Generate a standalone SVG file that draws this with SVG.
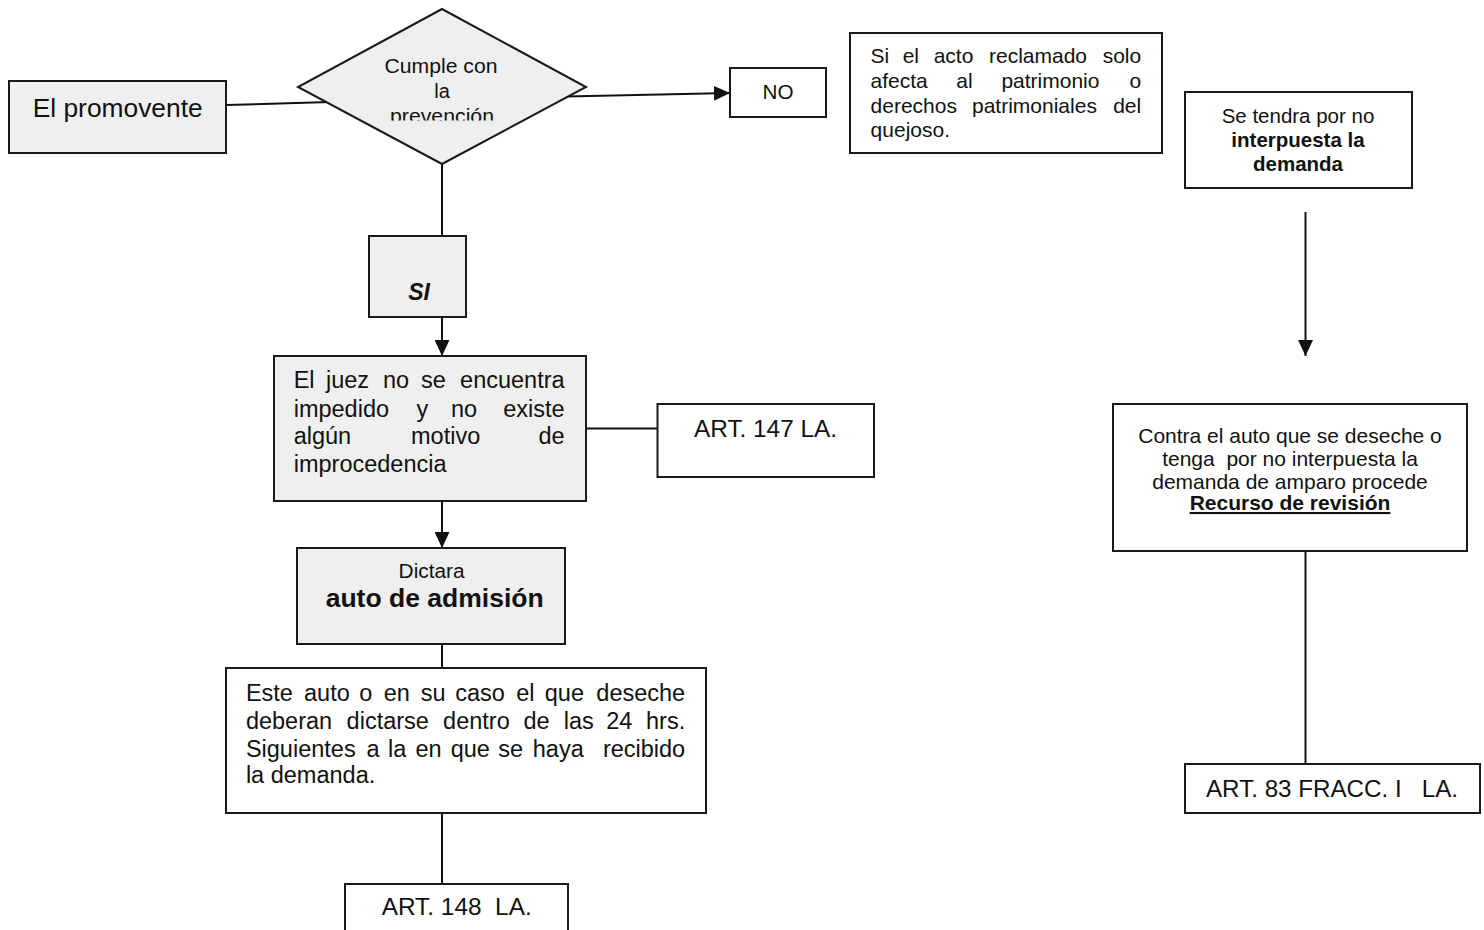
<svg xmlns="http://www.w3.org/2000/svg" width="1484" height="930" viewBox="0 0 1484 930">
  <style>
    .box { stroke: #1a1a1a; stroke-width: 2; }
    .gray { fill: #efefef; }
    .white { fill: #ffffff; }
    .wire { stroke: #111; stroke-width: 2; fill: none; }
    text { font-family: "Liberation Sans", Arial, sans-serif; fill: #111; }
    .b { font-weight: bold; }
  </style>
  <defs>
    <marker id="arrow" markerUnits="userSpaceOnUse" markerWidth="17" markerHeight="15" refX="16" refY="7.5" orient="auto">
      <path d="M0,0 L16,7.5 L0,15 Z" fill="#111"/>
    </marker>
    <clipPath id="diamondText">
      <rect x="370" y="0" width="150" height="120.5"/>
    </clipPath>
  </defs>
  <rect width="1484" height="930" fill="#ffffff"/>

  <!-- connectors -->
  <g id="connectors">
    <line class="wire" x1="226" y1="105" x2="330" y2="102"/>
    <line class="wire" x1="566" y1="96.5" x2="730" y2="93" marker-end="url(#arrow)"/>
    <line class="wire" x1="442" y1="164" x2="442" y2="236"/>
    <line class="wire" x1="442" y1="317" x2="442" y2="356" marker-end="url(#arrow)"/>
    <line class="wire" x1="586" y1="428.5" x2="657.5" y2="428.5"/>
    <line class="wire" x1="442" y1="501" x2="442" y2="548" marker-end="url(#arrow)"/>
    <line class="wire" x1="442" y1="644" x2="442" y2="668"/>
    <line class="wire" x1="442" y1="813" x2="442" y2="884"/>
    <line class="wire" x1="1305.5" y1="212" x2="1305.5" y2="356" marker-end="url(#arrow)"/>
    <line class="wire" x1="1305.5" y1="551" x2="1305.5" y2="764"/>
  </g>

  <!-- start -->
  <g id="promovente">
    <rect class="box gray" x="9" y="81" width="217" height="72"/>
    <text x="117.7" y="116.7" font-size="25" text-anchor="middle" textLength="170" lengthAdjust="spacingAndGlyphs">El promovente</text>
  </g>

  <!-- decision -->
  <g id="decision">
    <polygon class="box gray" points="442,9 586,87 442,164 298,87"/>
    <g clip-path="url(#diamondText)" font-size="20" text-anchor="middle">
      <text x="441" y="73" textLength="113" lengthAdjust="spacingAndGlyphs">Cumple con</text>
      <text x="442" y="98">la</text>
      <text x="442" y="123" textLength="104" lengthAdjust="spacingAndGlyphs">prevención</text>
    </g>
  </g>

  <g id="no">
    <rect class="box white" x="730" y="68" width="96" height="49"/>
    <text x="778" y="99" font-size="20" text-anchor="middle" textLength="31" lengthAdjust="spacingAndGlyphs">NO</text>
  </g>

  <g id="patrimonio">
    <rect class="box white" x="850" y="33" width="312" height="120"/>
    <g font-size="21">
      <text y="63.3"><tspan x="870.6">Si</tspan><tspan x="902.7">el</tspan><tspan x="933.7">acto</tspan><tspan x="989">reclamado</tspan><tspan x="1141.2" text-anchor="end">solo</tspan></text>
      <text y="88.3"><tspan x="870.6">afecta</tspan><tspan x="956.3">al</tspan><tspan x="1001.4">patrimonio</tspan><tspan x="1141.2" text-anchor="end">o</tspan></text>
      <text y="112.7"><tspan x="870.6">derechos</tspan><tspan x="972">patrimoniales</tspan><tspan x="1141.2" text-anchor="end">del</tspan></text>
      <text x="870.6" y="136.7">quejoso.</text>
    </g>
  </g>

  <g id="no-interpuesta">
    <rect class="box white" x="1185" y="92" width="227" height="96"/>
    <g font-size="20.5" text-anchor="middle">
      <text x="1298" y="123.3">Se tendra por no</text>
      <text class="b" x="1298" y="146.7">interpuesta la</text>
      <text class="b" x="1298" y="171">demanda</text>
    </g>
  </g>

  <g id="si">
    <rect class="box gray" x="369" y="236" width="97" height="81"/>
    <text x="419" y="300" font-size="23" font-weight="bold" font-style="italic" text-anchor="middle">SI</text>
  </g>

  <g id="juez">
    <rect class="box gray" x="274" y="356" width="312" height="145"/>
    <g font-size="23.5">
      <text y="388.3"><tspan x="293.7">El</tspan><tspan x="326">juez</tspan><tspan x="383">no</tspan><tspan x="421">se</tspan><tspan x="564.6" text-anchor="end">encuentra</tspan></text>
      <text y="416.7"><tspan x="293.7">impedido</tspan><tspan x="416.4">y</tspan><tspan x="451">no</tspan><tspan x="564.6" text-anchor="end">existe</tspan></text>
      <text y="444"><tspan x="293.7">algún</tspan><tspan x="411">motivo</tspan><tspan x="564.6" text-anchor="end">de</tspan></text>
      <text x="293.7" y="471.7">improcedencia</text>
    </g>
  </g>

  <g id="art147">
    <rect class="box white" x="657.5" y="404" width="216.5" height="73"/>
    <text x="694" y="436.7" font-size="23" textLength="143" lengthAdjust="spacingAndGlyphs">ART. 147 LA.</text>
  </g>

  <g id="dictara">
    <rect class="box gray" x="297" y="548" width="268" height="96"/>
    <text x="431.6" y="578.3" font-size="19.5" text-anchor="middle" textLength="66" lengthAdjust="spacingAndGlyphs">Dictara</text>
    <text class="b" x="434.7" y="607.3" font-size="25" text-anchor="middle" textLength="218" lengthAdjust="spacingAndGlyphs">auto de admisión</text>
  </g>

  <g id="plazo">
    <rect class="box white" x="226" y="668" width="480" height="145"/>
    <g font-size="23.5">
      <text y="701"><tspan x="245.9">Este</tspan><tspan x="304">auto</tspan><tspan x="359.3">o</tspan><tspan x="383.8">en</tspan><tspan x="420.7">su</tspan><tspan x="455.2">caso</tspan><tspan x="516.2">el</tspan><tspan x="544.8">que</tspan><tspan x="685.2" text-anchor="end">deseche</tspan></text>
      <text y="729.3"><tspan x="245.9">deberan</tspan><tspan x="346.6">dictarse</tspan><tspan x="443.1">dentro</tspan><tspan x="523.4">de</tspan><tspan x="563.8">las</tspan><tspan x="606.2">24</tspan><tspan x="685.2" text-anchor="end">hrs.</tspan></text>
      <text y="757.3"><tspan x="245.9">Siguientes</tspan><tspan x="366.6">a</tspan><tspan x="388">la</tspan><tspan x="415.5">en</tspan><tspan x="450.7">que</tspan><tspan x="498.3">se</tspan><tspan x="532.8">haya</tspan><tspan x="685.2" text-anchor="end">recibido</tspan></text>
      <text x="245.9" y="783.3">la demanda.</text>
    </g>
  </g>

  <g id="art148">
    <rect class="box white" x="345" y="884" width="223" height="60"/>
    <text x="381.7" y="915" font-size="23" xml:space="preserve" textLength="150" lengthAdjust="spacingAndGlyphs">ART. 148  LA.</text>
  </g>

  <g id="revision">
    <rect class="box white" x="1113" y="404" width="354" height="147"/>
    <g font-size="21" text-anchor="middle">
      <text x="1290" y="443">Contra el auto que se deseche o</text>
      <text x="1290" y="466" xml:space="preserve">tenga  por no interpuesta la</text>
      <text x="1290" y="489">demanda de amparo procede</text>
      <text class="b" x="1290" y="510" text-decoration="underline">Recurso de revisión</text>
    </g>
  </g>

  <g id="art83">
    <rect class="box white" x="1185" y="764" width="295" height="49"/>
    <text x="1206" y="796.7" font-size="23" xml:space="preserve" textLength="252" lengthAdjust="spacingAndGlyphs">ART. 83 FRACC. I   LA.</text>
  </g>
</svg>
